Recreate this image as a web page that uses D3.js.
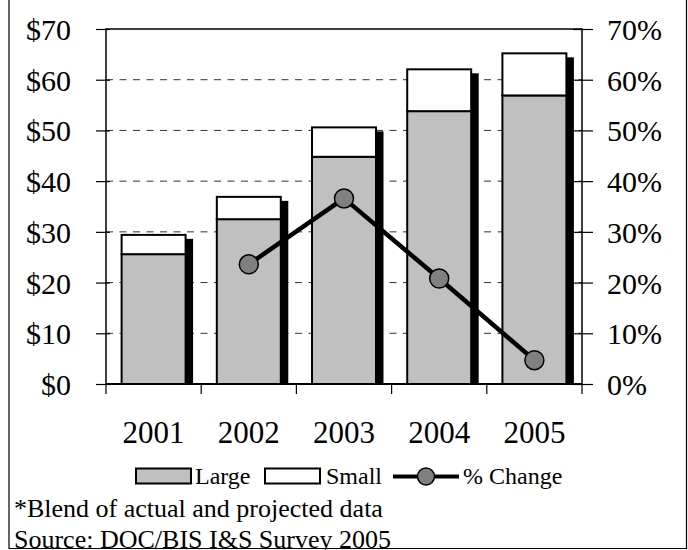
<!DOCTYPE html>
<html>
<head>
<meta charset="utf-8">
<script src="https://cdn.jsdelivr.net/npm/d3@7"></script>
<style>
  html, body { margin: 0; padding: 0; background: #fff; }
  svg { display: block; }
  text { font-family: "Liberation Serif", "Times New Roman", serif; fill: #000; }
</style>
</head>
<body>
<svg id="chart" width="688" height="550"></svg>
<script>
// Shipments by year (billions of dollars) and year-over-year change (%)
const years = ["2001", "2002", "2003", "2004", "2005"];
const largeValues = [25.6, 32.5, 44.8, 53.8, 56.9];
const smallValues = [3.8, 4.4, 5.8, 8.25, 8.3];
const pctChange = [null, 23.6, 36.6, 20.8, 4.7];
const dollarTicks = [0, 10, 20, 30, 40, 50, 60, 70];
const pctTicks = [0, 10, 20, 30, 40, 50, 60, 70];
const legendLabels = ["Large", "Small", "% Change"];
const footnotes = ["*Blend of actual and projected data", "Source: DOC/BIS I&S Survey 2005"];

const svg = d3.select("#chart");
const plot = { left: 106, right: 582, top: 29, bottom: 384 };

const xCat = d3.scaleBand().domain(years).range([plot.left, plot.right]).padding(0);
const xBar = d3.scaleBand().domain(years).range([plot.left, plot.right])
  .paddingInner(0.328).paddingOuter(0.164);
const yL = d3.scaleLinear().domain([0, 70]).range([plot.bottom, plot.top]);
const yR = d3.scaleLinear().domain([0, 70]).range([plot.bottom, plot.top]);

// outer frame (left, right, bottom edges)
svg.append("path")
  .attr("d", "M9,0 V548.5 H686.5 V0")
  .attr("fill", "none").attr("stroke", "#000").attr("stroke-width", 1.2);

// dashed gridlines
svg.append("g").selectAll("line")
  .data(dollarTicks.filter(d => d > 0 && d < 70))
  .join("line")
  .attr("x1", plot.left).attr("x2", plot.right)
  .attr("y1", d => yL(d)).attr("y2", d => yL(d))
  .attr("stroke", "#333").attr("stroke-width", 1)
  .attr("stroke-dasharray", "7,6.5");

const bw = xBar.bandwidth();
const stacks = years.map((y, i) => ({
  year: y, large: largeValues[i], total: largeValues[i] + smallValues[i]
}));

// shadow strips to the right of each bar
svg.append("g").selectAll("rect")
  .data(stacks).join("rect")
  .attr("x", d => xBar(d.year) + 7.5)
  .attr("y", d => yL(d.total) + 4)
  .attr("width", bw)
  .attr("height", d => plot.bottom - yL(d.total) - 4)
  .attr("fill", "#000");

// Large segment
svg.append("g").selectAll("rect")
  .data(stacks).join("rect")
  .attr("x", d => xBar(d.year))
  .attr("y", d => yL(d.large))
  .attr("width", bw)
  .attr("height", d => plot.bottom - yL(d.large))
  .attr("fill", "#c0c0c0").attr("stroke", "#000").attr("stroke-width", 2);

// Small segment
svg.append("g").selectAll("rect")
  .data(stacks).join("rect")
  .attr("x", d => xBar(d.year))
  .attr("y", d => yL(d.total))
  .attr("width", bw)
  .attr("height", d => yL(d.large) - yL(d.total))
  .attr("fill", "#fff").attr("stroke", "#000").attr("stroke-width", 2);

// plot border
svg.append("rect")
  .attr("x", plot.left).attr("y", plot.top)
  .attr("width", plot.right - plot.left).attr("height", plot.bottom - plot.top)
  .attr("fill", "none").attr("stroke", "#000").attr("stroke-width", 1.5);

// left axis
const axL = svg.append("g").attr("transform", `translate(${plot.left},0)`)
  .call(d3.axisLeft(yL).tickValues(dollarTicks).tickSize(10).tickPadding(25)
    .tickFormat(d => "$" + d));
axL.select(".domain").remove();
axL.selectAll("line").attr("x1", 4).attr("x2", -10).attr("stroke", "#000").attr("stroke-width", 1.2);
axL.selectAll("text").attr("font-size", 30).attr("dy", "0.35em")
  .attr("font-family", "Liberation Serif");

// right axis
const axR = svg.append("g").attr("transform", `translate(${plot.right},0)`)
  .call(d3.axisRight(yR).tickValues(pctTicks).tickSize(11).tickPadding(14)
    .tickFormat(d => d + "%"));
axR.select(".domain").remove();
axR.selectAll("line").attr("x1", -9).attr("x2", 11).attr("stroke", "#000").attr("stroke-width", 1.2);
axR.selectAll("text").attr("font-size", 30).attr("dy", "0.35em")
  .attr("font-family", "Liberation Serif");

// category axis: ticks at band boundaries, labels at centers
const bounds = years.map(y => xCat(y)).concat([plot.right]);
svg.append("g").selectAll("line")
  .data(bounds).join("line")
  .attr("x1", d => d).attr("x2", d => d)
  .attr("y1", plot.bottom).attr("y2", plot.bottom + 10)
  .attr("stroke", "#000").attr("stroke-width", 1.2);
svg.append("line")
  .attr("x1", plot.left).attr("x2", plot.right)
  .attr("y1", plot.bottom).attr("y2", plot.bottom)
  .attr("stroke", "#000").attr("stroke-width", 2);
svg.append("g").selectAll("text")
  .data(years).join("text")
  .attr("x", d => xCat(d) + xCat.bandwidth() / 2)
  .attr("y", 443)
  .attr("text-anchor", "middle")
  .attr("font-size", 31)
  .text(d => d);

// % change line
const linePts = years.map((y, i) => ({ year: y, v: pctChange[i] })).filter(d => d.v != null);
const line = d3.line()
  .x(d => xCat(d.year) + xCat.bandwidth() / 2)
  .y(d => yR(d.v));
svg.append("path").datum(linePts)
  .attr("d", line).attr("fill", "none")
  .attr("stroke", "#000").attr("stroke-width", 4.5).attr("stroke-linejoin", "round");
svg.append("g").selectAll("circle")
  .data(linePts).join("circle")
  .attr("cx", d => xCat(d.year) + xCat.bandwidth() / 2)
  .attr("cy", d => yR(d.v))
  .attr("r", 9.5)
  .attr("fill", "#808080").attr("stroke", "#000").attr("stroke-width", 1.5);

// legend
const lg = svg.append("g");
const legY = 468.5, legH = 15;
lg.append("rect").attr("x", 136).attr("y", legY).attr("width", 55).attr("height", legH)
  .attr("fill", "#c0c0c0").attr("stroke", "#000").attr("stroke-width", 2);
lg.append("text").attr("x", 195).attr("y", 483.5).attr("font-size", 24).text(legendLabels[0]);
lg.append("rect").attr("x", 265).attr("y", legY).attr("width", 55).attr("height", legH)
  .attr("fill", "#fff").attr("stroke", "#000").attr("stroke-width", 2);
lg.append("text").attr("x", 326).attr("y", 483.5).attr("font-size", 24).text(legendLabels[1]);
lg.append("line").attr("x1", 393).attr("x2", 459).attr("y1", 476.5).attr("y2", 476.5)
  .attr("stroke", "#000").attr("stroke-width", 4);
lg.append("circle").attr("cx", 426).attr("cy", 476.5).attr("r", 8.5)
  .attr("fill", "#808080").attr("stroke", "#000").attr("stroke-width", 1.5);
lg.append("text").attr("x", 463).attr("y", 483.5).attr("font-size", 24).text(legendLabels[2]);

// footnotes
svg.append("g").selectAll("text")
  .data(footnotes).join("text")
  .attr("x", 14)
  .attr("y", (d, i) => 517 + i * 31)
  .attr("font-size", 26)
  .text(d => d);
</script>
</body>
</html>
